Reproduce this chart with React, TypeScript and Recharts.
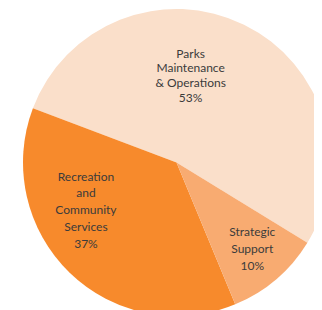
import React from "react";
import { PieChart, Pie, Cell } from "recharts";

const categories = ["Parks Maintenance & Operations", "Recreation and Community Services", "Strategic Support"];
const labelLines = [
  ["Parks", "Maintenance", "& Operations"],
  ["Recreation", "and", "Community", "Services"],
  ["Strategic", "Support"],
];
const shares = [53, 37, 10];
const colors = ["#FADFCA", "#F78A2C", "#F8AB71"];

const data = categories.map((name, i) => ({ name, value: shares[i] }));

// label placement style: radius fraction, angle shift (deg), line height
const labelStyle = [
  { rf: 0.576, shift: 16.9, lh: 14.7 },
  { rf: 0.665, shift: -18.4, lh: 16.7 },
  { rf: 0.745, shift: 1.0, lh: 17 },
];

const RAD = Math.PI / 180;

const renderLabel = (props: any) => {
  const { cx, cy, midAngle, outerRadius, index, value } = props;
  const st = labelStyle[index];
  const a = (midAngle + st.shift) * RAD;
  const r = outerRadius * st.rf;
  const x = cx + r * Math.cos(a);
  const y = cy - r * Math.sin(a);
  const lines = [...labelLines[index], `${value}%`];
  const y0 = y - ((lines.length - 1) / 2) * st.lh;
  return (
    <text
      x={x}
      y={y0}
      textAnchor="middle"
      fill="#3b3b3b"
      fontSize={12}
      fontFamily="Lato, 'Open Sans', sans-serif"
    >
      {lines.map((l, i) => (
        <tspan key={i} x={x} y={y0 + i * st.lh} dominantBaseline="central">
          {l}
        </tspan>
      ))}
    </text>
  );
};

export default function App() {
  return (
    <div style={{ width: 314, height: 302, overflow: "hidden" }}>
      <PieChart width={314} height={302} margin={{ top: 0, right: 0, bottom: 0, left: 0 }}>
        <Pie
          data={data}
          dataKey="value"
          nameKey="name"
          cx={168.5}
          cy={154.5}
          outerRadius={153.5}
          innerRadius={0}
          startAngle={-31.5}
          endAngle={328.5}
          stroke="none"
          label={renderLabel}
          labelLine={false}
          isAnimationActive={false}
        >
          {data.map((d, i) => (
            <Cell key={d.name} fill={colors[i]} />
          ))}
        </Pie>
      </PieChart>
    </div>
  );
}
